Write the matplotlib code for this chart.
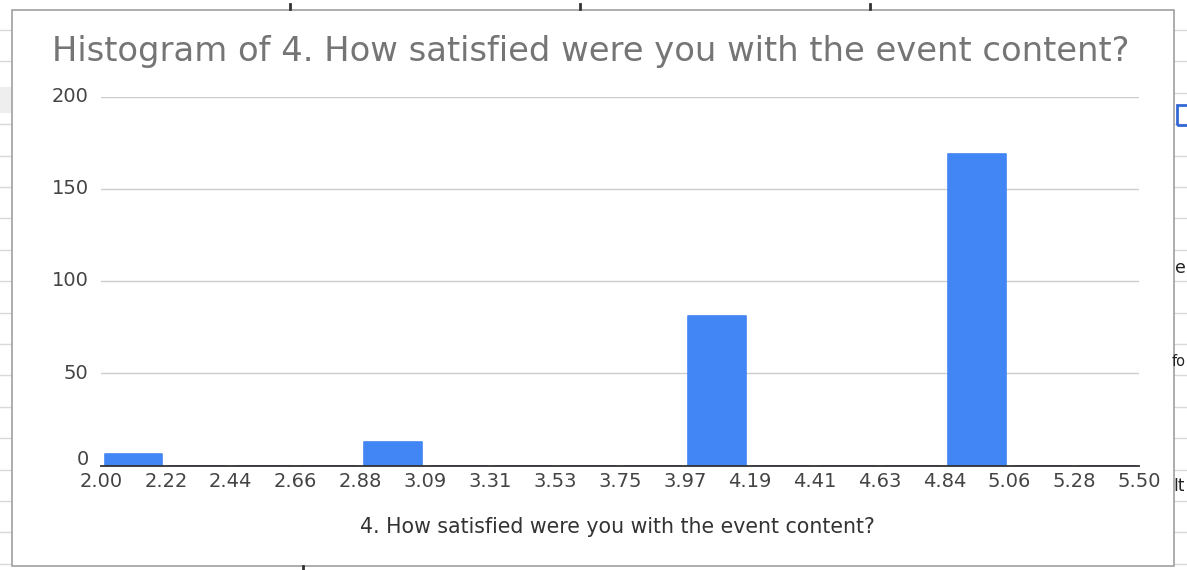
import matplotlib
matplotlib.use("Agg")
import matplotlib.pyplot as plt
import matplotlib.transforms as mtransforms
import numpy as np
from matplotlib.lines import Line2D
from matplotlib.patches import Rectangle

plt.rcParams['font.family'] = ['DejaVu Sans']

# ---- data ----
title = "Histogram of 4. How satisfied were you with the event content?"
x_label = "4. How satisfied were you with the event content?"
bin_labels = ["2.00", "2.22", "2.44", "2.66", "2.88", "3.09", "3.31", "3.53", "3.75",
              "3.97", "4.19", "4.41", "4.63", "4.84", "5.06", "5.28", "5.50"]
bin_low, bin_high = 2.00, 5.50
counts = [6, 0, 0, 0, 13, 0, 0, 0, 0, 81, 0, 0, 0, 169, 0, 0]
y_ticks = [0, 50, 100, 150, 200]

W, H = 1187, 570
fig = plt.figure(figsize=(W / 100, H / 100), dpi=100)
fig.patch.set_facecolor("white")

def px(x, y):
    return x / W, 1 - y / H

# ---- spreadsheet background (outside chart box) ----
grid_c = "#d9d9d9"
for i in range(18):
    yy = 30 + i * 31.4
    fig.add_artist(Line2D([0, 12 / W], [1 - yy / H] * 2, color=grid_c, lw=1, zorder=-2))
    fig.add_artist(Line2D([1174 / W, 1], [1 - yy / H] * 2, color=grid_c, lw=1, zorder=-2))
fig.add_artist(Rectangle(px(0, 113), 12 / W, 26 / H, facecolor="#eeeeee",
                         edgecolor="none", zorder=-2))
for xx in (290, 580, 870):
    fig.add_artist(Line2D([xx / W] * 2, [1 - 4 / H, 1 - 9 / H], color="#333333", lw=2))
fig.add_artist(Line2D([303 / W] * 2, [1 - 566 / H, 0], color="#333333", lw=2))
fig.add_artist(Rectangle(px(1177, 125), 14 / W, 20 / H, facecolor="none",
                         edgecolor="#3367d6", lw=2))
fig.text(1175 / W, 1 - 268 / H, "e", fontsize=12.5, color="#222222", va="center")
fig.text(1172 / W, 1 - 362 / H, "fo", fontsize=10.5, color="#222222", va="center")
fig.text(1173 / W, 1 - 486 / H, "It", fontsize=12, color="#222222", va="center")

# chart box
fig.add_artist(Rectangle(px(12, 566), (1174 - 12) / W, (566 - 10) / H,
                         facecolor="white", edgecolor="#a0a0a0", lw=1.2, zorder=-1))

# ---- chart ----
left, right = 101, 1139
top, bottom = 96.5, 465.5
ax = fig.add_axes([left / W, 1 - bottom / H, (right - left) / W, (bottom - top) / H])
ax.set_facecolor("none")

n = len(counts)
edges = np.linspace(bin_low, bin_high, n + 1)
centers = (edges[:-1] + edges[1:]) / 2
bw = (bin_high - bin_low) / n
ax.bar(centers, counts, width=bw * 0.89, color="#4285f4", edgecolor="#4285f4",
       linewidth=1.2, joinstyle="round", zorder=3)

ax.set_xlim(bin_low, bin_high)
ax.set_ylim(0, 200)
ax.set_yticks(y_ticks)
ax.set_yticklabels([str(v) for v in y_ticks])
ax.set_xticks(edges)
ax.set_xticklabels(bin_labels)
ax.grid(axis="y", color="#cccccc", lw=1, zorder=0)
ax.set_axisbelow(True)
for s in ("top", "right", "left"):
    ax.spines[s].set_visible(False)
ax.spines["bottom"].set_color("#333333")
ax.spines["bottom"].set_linewidth(1.3)
ax.spines["bottom"].set_zorder(4)
ax.tick_params(axis="both", length=0, colors="#444444", labelsize=14)
ax.tick_params(axis="x", pad=4.5)
ax.tick_params(axis="y", pad=9)
for lbl in ax.get_yticklabels():
    lbl.set_verticalalignment("center")
# lift the "0" label a little so it sits just above the x tick labels
zero_lbl = ax.get_yticklabels()[0]
zero_lbl.set_transform(zero_lbl.get_transform() +
                       mtransforms.ScaledTranslation(0, 4 / 72, fig.dpi_scale_trans))

fig.text(52 / W, 1 - 52 / H, title, fontsize=24.3, color="#757575",
         ha="left", va="center")
fig.text(617 / W, 1 - 527 / H, x_label, fontsize=14.8, color="#333333",
         ha="center", va="center")

fig.savefig("out.png", dpi=100)
